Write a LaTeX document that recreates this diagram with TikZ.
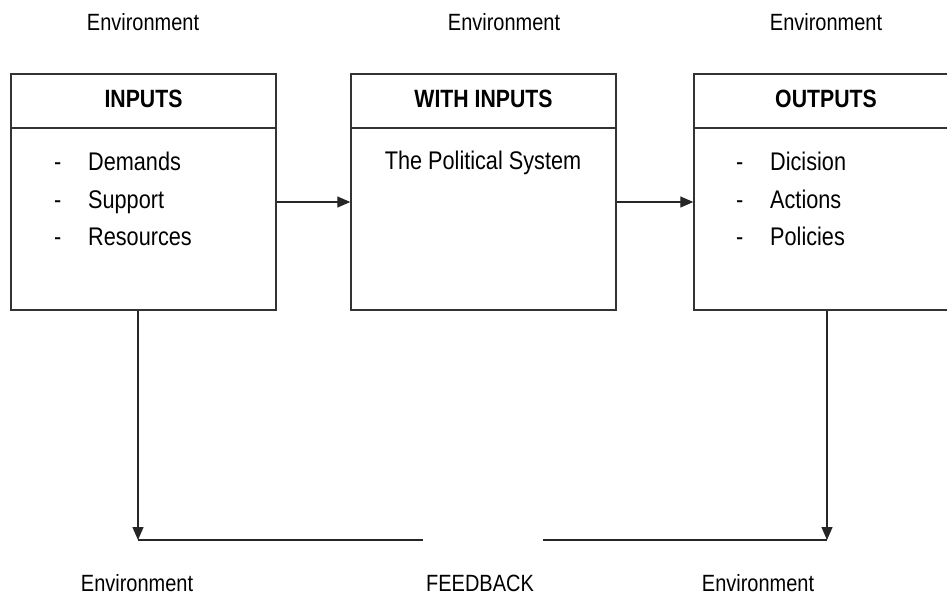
\documentclass[tikz,border=0pt]{standalone}
\usepackage{fontspec}
\setmainfont{Liberation Sans}[FakeStretch=0.85]
\usetikzlibrary{arrows.meta}
\tikzset{
  boxpart/.style={draw=black!80, line width=1.4pt, inner sep=0pt},
  headtext/.style={font=\fontsize{25}{30}\selectfont\bfseries, anchor=base},
  envtext/.style={font=\fontsize{23.5}{28}\selectfont, anchor=base, inner sep=0pt},
  listtext/.style={font=\fontsize{25.5}{37.5}\selectfont, anchor=base west, align=left, inner sep=0pt},
  flow/.style={draw=black!85, line width=1.3pt},
  flowarrow/.style={flow, -{Triangle[length=13pt,width=11pt]}}
}
\newcommand{\dashitem}[1]{\makebox[34pt][l]{-}#1}
\begin{document}
\begin{tikzpicture}[x=1pt,y=-1pt]
  \useasboundingbox (0,0) rectangle (947,595);
  \clip (0,0) rectangle (947,595);

  % environment labels
  \node[envtext] (envtl) at (143,30) {Environment};
  \node[envtext] (envtm) at (504,30) {Environment};
  \node[envtext] (envtr) at (826,30) {Environment};
  \node[envtext] (envbl) at (137,591) {Environment};
  \node[envtext] (fbtext) at (480,591) {FEEDBACK};
  \node[envtext] (envbr) at (758,591) {Environment};

  % INPUTS box
  \node[boxpart, minimum width=265pt, minimum height=54pt] (inhead) at (143.5,101) {};
  \node[boxpart, minimum width=265pt, minimum height=182pt] (inbody) at (143.5,219) {};
  \node[headtext] (inlabel) at (143.5,107) {INPUTS};
  \node[listtext] (inlist) at (54,245.5) {\dashitem{Demands}\\\dashitem{Support}\\\dashitem{Resources}};

  % political system box
  \node[boxpart, minimum width=265pt, minimum height=54pt] (syshead) at (483.5,101) {};
  \node[boxpart, minimum width=265pt, minimum height=182pt] (sysbody) at (483.5,219) {};
  \node[headtext] (syslabel) at (483.5,107) {WITH INPUTS};
  \node[envtext, font=\fontsize{25.5}{30}\selectfont] (systext) at (483,169) {The Political System};

  % OUTPUTS box (runs past the right edge)
  \node[boxpart, minimum width=264pt, minimum height=54pt] (outhead) at (826,101) {};
  \node[boxpart, minimum width=264pt, minimum height=182pt] (outbody) at (826,219) {};
  \node[headtext] (outlabel) at (826,107) {OUTPUTS};
  \node[listtext] (outlist) at (736,245.5) {\dashitem{Dicision}\\\dashitem{Actions}\\\dashitem{Policies}};

  % flow between the boxes
  \coordinate (flowy) at (0,202);
  \draw[flowarrow] (inbody.east |- flowy) -- (sysbody.west |- flowy);
  \draw[flowarrow] (sysbody.east |- flowy) -- (outbody.west |- flowy);

  % feedback loop
  \coordinate (fbl) at (138,540);
  \coordinate (fbr) at (827,540);
  \coordinate (fbgapl) at (423,540);
  \coordinate (fbgapr) at (543,540);
  \draw[flowarrow] (inbody.south -| fbl) -- (fbl);
  \draw[flowarrow] (outbody.south -| fbr) -- (fbr);
  \draw[flow] (fbl) -- (fbgapl);
  \draw[flow] (fbgapr) -- (fbr);
\end{tikzpicture}
\end{document}
